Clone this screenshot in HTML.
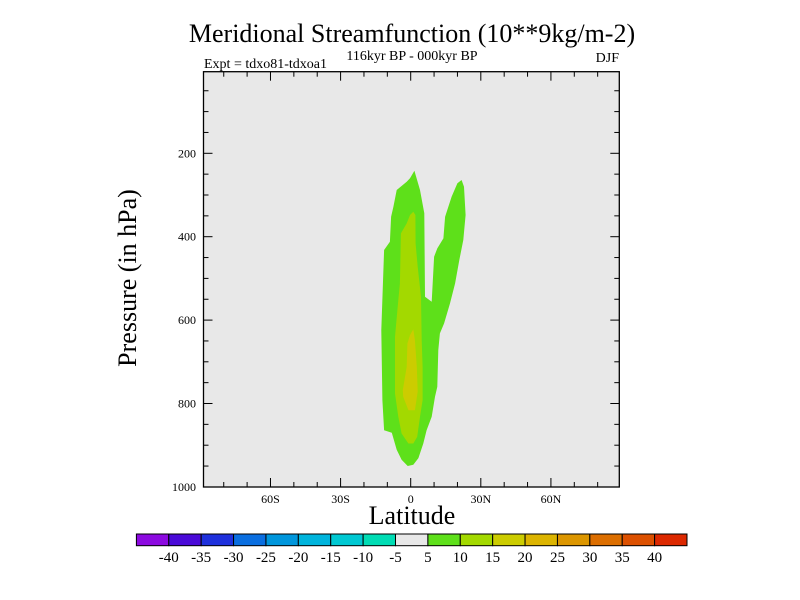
<!DOCTYPE html>
<html><head><meta charset="utf-8"><style>
body{margin:0;background:#fff;}
svg{display:block;font-family:"Liberation Serif",serif;}
</style></head><body>
<svg id="c" width="800" height="600">
<text x="412" y="42" font-size="26" text-anchor="middle">Meridional Streamfunction (10**9kg/m-2)</text>
<text x="412" y="60" font-size="14" text-anchor="middle">116kyr BP - 000kyr BP</text>
<text x="204" y="68" font-size="14">Expt = tdxo81-tdxoa1</text>
<text x="619" y="62" font-size="14" text-anchor="end">DJF</text>
<text x="412" y="524" font-size="26" text-anchor="middle">Latitude</text>
<text transform="translate(136,278) rotate(-90)" font-size="26" text-anchor="middle">Pressure (in hPa)</text>
</svg>
<script>
const latTicks=[-60,-30,0,30,60];
const latTickLabels=["60S","30S","0","30N","60N"];
const latMinor=[-80,-70,-50,-40,-20,-10,10,20,40,50,70,80];
const pTicks=[200,400,600,800,1000];
const levels=[-40,-35,-30,-25,-20,-15,-10,-5,5,10,15,20,25,30,35,40];
const levelColors=["#8c0ae0","#4a0ad8","#1e30dc","#0a6ee0","#0096dc","#00b4dc","#00c8d2","#00dcb4","#e8e8e8","#5ee01a","#a3d900","#cccc00","#dcb400","#dc9600","#dc6e00","#dc5000","#dc2800"];
const contour5=[[1.6,242],[4.0,288],[5.8,344],[6.1,544],[9.0,556],[10.0,448],[11.4,428],[14.0,404],[14.7,352],[17.5,304],[20.0,272],[21.8,264],[22.8,280],[23.5,348],[22.5,408],[20.8,456],[19.0,512],[16.8,560],[14.3,608],[12.5,632],[11.8,672],[11.4,760],[10.4,784],[9.0,832],[6.8,864],[5.4,896],[3.3,931],[1.1,947],[-1.3,950],[-3.9,935],[-6.0,911],[-8.1,870],[-11.4,864],[-12.1,792],[-12.6,624],[-11.4,432],[-8.9,412],[-8.4,352],[-7.4,328],[-6.0,288],[-1.7,268],[-0.3,260]];
const contour10=[[1.1,340],[2.0,348],[2.1,416],[3.0,472],[4.4,544],[4.7,648],[5.1,712],[5.1,792],[4.0,832],[2.8,880],[1.1,896],[-1.0,896],[-3.9,872],[-5.3,832],[-6.7,776],[-6.7,640],[-5.3,552],[-4.6,512],[-4.2,392],[-1.7,368],[-0.3,348]];
const contour15=[[1.1,622],[1.8,648],[2.6,712],[3.0,772],[1.8,816],[-1.0,816],[-3.2,784],[-3.4,768],[-1.7,712],[-1.4,656],[-0.3,636]];

const NS="http://www.w3.org/2000/svg";
const svg=document.getElementById('c');
const X0=203.5,X1=619.3,Y0=71.7,Y1=487;
const xs=lat=>410.7+lat*2.337;
const ys=p=>69.9+p*0.417;
function mk(t,a,parent){const e=document.createElementNS(NS,t);for(const k in a)e.setAttribute(k,a[k]);(parent||svg).appendChild(e);return e;}
const bg=mk('rect',{x:X0,y:Y0,width:X1-X0,height:Y1-Y0,fill:'#e8e8e8'});


const fills=[[contour5,levelColors[9],'contour-5-10'],[contour10,levelColors[10],'contour-10-15'],[contour15,levelColors[11],'contour-15-20']];
fills.forEach(f=>{
  const pg=mk('polygon',{points:f[0].map(d=>xs(d[0]).toFixed(1)+','+ys(d[1]).toFixed(1)).join(' '),fill:f[1]});
  
  
});
const fr=mk('rect',{x:X0,y:Y0,width:X1-X0,height:Y1-Y0,fill:'none',stroke:'#000','stroke-width':1.3});


const ax=mk('g',{stroke:'#000','stroke-width':1});


latTicks.forEach((l,i)=>{
  const x=xs(l);
  mk('line',{x1:x,x2:x,y1:Y1,y2:Y1-9},ax);mk('line',{x1:x,x2:x,y1:Y0,y2:Y0+9},ax);
  const t=mk('text',{x:x,y:503,'font-size':12,'text-anchor':'middle'});t.textContent=latTickLabels[i];
  
  
});
latMinor.forEach(l=>{const x=xs(l);mk('line',{x1:x,x2:x,y1:Y1,y2:Y1-5},ax);mk('line',{x1:x,x2:x,y1:Y0,y2:Y0+5},ax);});
for(let p=50;p<1000;p+=50){
  const y=ys(p);const major=pTicks.indexOf(p)>=0;const L=major?9:5;
  mk('line',{x1:X0,x2:X0+L,y1:y,y2:y},ax);mk('line',{x1:X1,x2:X1-L,y1:y,y2:y},ax);
}
pTicks.forEach(p=>{
  const t=mk('text',{x:196,y:ys(p)+4,'font-size':12,'text-anchor':'end'});t.textContent=p;
  
  
});
// colorbar
const CB0=136.4,CB1=687,CBy=534,CBh=11.7;const bw=(CB1-CB0)/levelColors.length;
const cb=mk('g',{});


levelColors.forEach((c,i)=>{
  const r=mk('rect',{x:CB0+i*bw,y:CBy,width:bw,height:CBh,fill:c,stroke:'#000','stroke-width':1},cb);
  
  
});
levels.forEach((v,i)=>{
  const t=mk('text',{x:CB0+(i+1)*bw,y:562,'font-size':15,'text-anchor':'middle'},cb);t.textContent=v;
  
  
});
</script>
</body></html>
